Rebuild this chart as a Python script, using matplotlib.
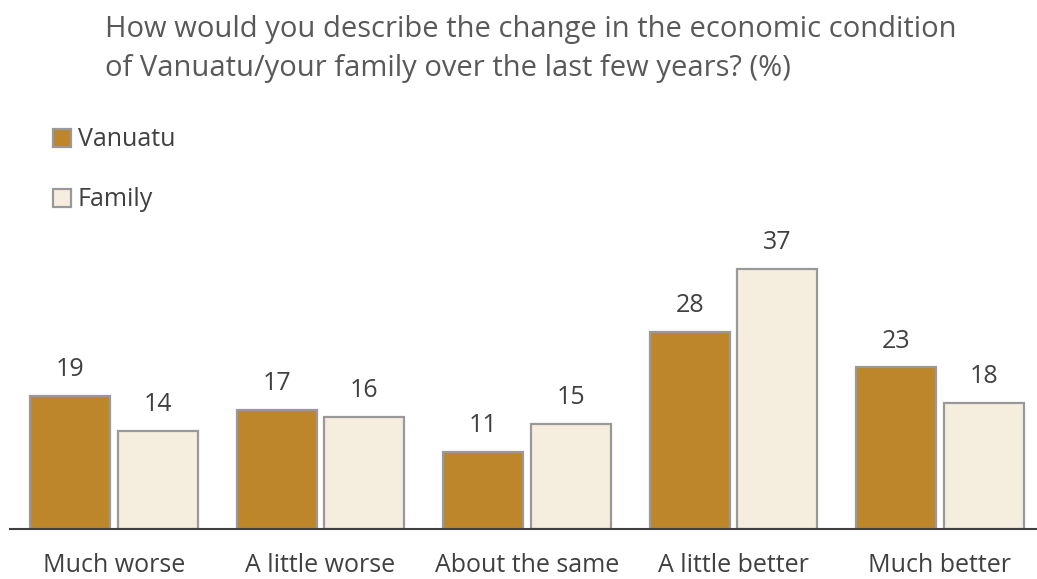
import matplotlib
matplotlib.use("Agg")
import matplotlib.pyplot as plt
import numpy as np
from matplotlib.patches import Patch

categories = ["Much worse", "A little worse", "About the same", "A little better", "Much better"]
vanuatu = [19, 17, 11, 28, 23]
family = [14, 16, 15, 37, 18]
series_names = ["Vanuatu", "Family"]
title = ("How would you describe the change in the economic condition\n"
         "of Vanuatu/your family over the last few years? (%)")

plt.rcParams["font.family"] = ["Open Sans", "DejaVu Sans"]

W, H = 1037, 579
fig = plt.figure(figsize=(W / 100, H / 100), dpi=100)
ax = fig.add_axes([10 / W, 50 / H, 1 - 10 / W, 281 / H])

x = np.arange(len(categories))
bw = 0.387
off = 0.212
c_van = "#BE862B"
c_fam = "#F5EEDF"
edge = "#999999"
txt = "#404040"

b1 = ax.bar(x - off, vanuatu, bw, color=c_van, edgecolor=edge, linewidth=1.6, zorder=2)
b2 = ax.bar(x + off, family, bw, color=c_fam, edgecolor=edge, linewidth=1.6, zorder=2)

for bars, vals in ((b1, vanuatu), (b2, family)):
    for b, v in zip(bars, vals):
        ax.annotate(f"{v}", (b.get_x() + b.get_width() / 2, v), xytext=(0, 19),
                    textcoords="offset points", ha="center", va="center",
                    fontsize=18, color=txt)

ax.set_xlim(-0.504, 4.47)
ax.set_ylim(0, 40)
ax.set_xticks(x)
ax.set_xticklabels(categories, fontsize=18, color=txt)
ax.tick_params(axis="x", length=0, pad=17)
ax.set_yticks([])
for s in ("top", "right", "left"):
    ax.spines[s].set_visible(False)
ax.spines["bottom"].set_color("#404040")
ax.spines["bottom"].set_linewidth(1.5)
ax.spines["bottom"].set_zorder(3)
ax.patch.set_visible(False)

fig.text(105 / W, 1 - 49 / H, title, ha="left", va="center", fontsize=21,
         color="#595959", linespacing=1.45)

handles = [Patch(facecolor=c_van, edgecolor=edge, linewidth=1.6),
           Patch(facecolor=c_fam, edgecolor=edge, linewidth=1.6)]
fig.legend(handles, series_names, loc="upper left", bbox_to_anchor=(30 / W, 1 - 105 / H),
           frameon=False, fontsize=18, handlelength=0.75, handleheight=0.75,
           handletextpad=0.25, labelspacing=1.4, labelcolor=txt)

fig.savefig("out.png", dpi=100)
